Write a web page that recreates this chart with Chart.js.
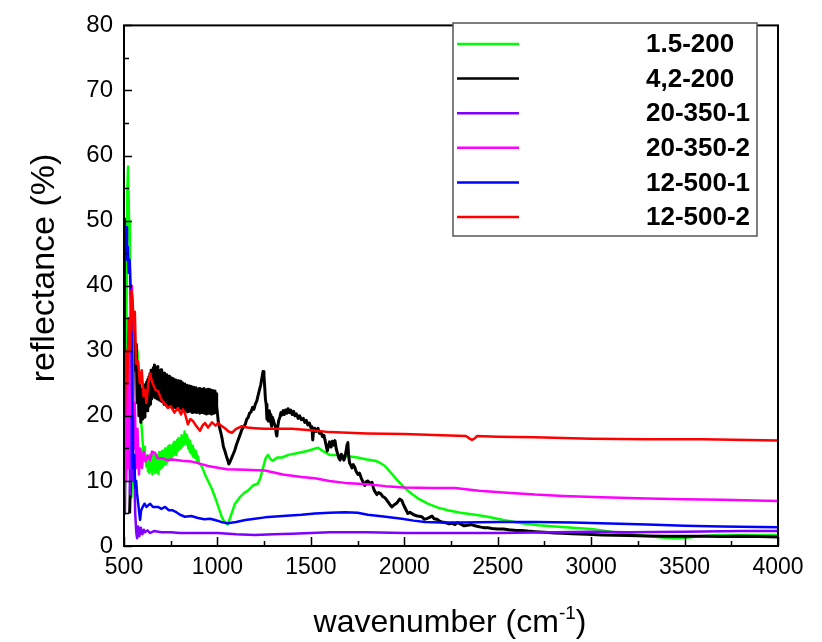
<!DOCTYPE html>
<html><head><meta charset="utf-8">
<script src="https://cdn.jsdelivr.net/npm/chart.js@4"></script>
<style>html,body{margin:0;padding:0;background:#fff}canvas{display:block}</style>
</head><body>
<canvas id="c" width="822" height="642"></canvas>
<script>
// ---------- data: [wavenumber (cm-1), reflectance (%)] ----------
const seriesLabels = ['1.5-200', '4,2-200', '20-350-1', '20-350-2', '12-500-1', '12-500-2'];
const seriesColors = ['#00ff00', '#000000', '#8000ff', '#ff00ff', '#0000ff', '#ff0000'];
const seriesWidths = [2.5, 3, 2.5, 2.5, 2.5, 2.5];
const xTickValues = [500, 1000, 1500, 2000, 2500, 3000, 3500, 4000];
const yTickValues = [0, 10, 20, 30, 40, 50, 60, 70, 80];

const green = [[500,20],[505,8],[512,30],[518,55],[522,58.3],[527,50],[532,45],[537,20],[540,7.5],[545,12],[550,28],[560,31],[572,30],[580,26],[590,20],
[600,16],[604,14.5],[608,15.2],[612,13.2],[616,14],[620,12.2],[624,13.6],[628,11.5],[632,13.8],[636,11.2],[640,14],[644,11.6],[648,13.5],[652,11],[656,14.2],[660,11.8],[664,13.6],[668,11.2],[672,14],[676,11.5],[680,13.5],[684,11.1],[688,14.4],[692,11.8],[696,14.1],
[700,12],[704,14.6],[708,12.2],[712,14.2],[716,12.5],[720,15],[724,12.6],[728,14.8],[732,12.9],[736,15.3],[740,13.1],[744,15.5],[748,13.4],[752,15.2],[756,13.6],[760,15.6],[764,13.9],[768,16],[772,14.1],[776,15.8],[780,14],[784,16.3],[788,14.6],[792,16.6],[796,14.9],
[800,16.4],[804,15],[808,17],[812,15.3],[816,16.8],[820,15.6],[824,17.6],[828,15.9],[832,17.1],[836,15.6],[840,16.7],[844,15],[848,16.2],[852,14.5],[856,15.8],[860,14.2],[864,15.4],[868,13.8],[872,15],[876,13.6],[880,14.6],[884,13.5],[888,14.2],[892,13],[896,13.8],[900,12.8],
[910,12.5],[920,12],[933,11],[950,10],[970,8.8],[987,7.5],[1005,6],[1024,4.4],[1040,3.6],[1055,3.3],[1070,4.5],[1094,6.5],[1120,7.5],[1145,8.2],[1164,8.5],[1190,9.3],[1217,9.6],[1230,10.5],[1244,12],[1258,13.5],[1270,14],[1285,13.3],[1297,13.1],[1320,13.6],[1345,13.6],[1380,14],[1431,14.3],[1480,14.6],[1538,15.1],[1570,14.5],[1600,14],[1645,14],[1700,13.8],[1750,13.6],[1800,13.3],[1843,13.1],[1870,12.8],[1896,12.3],[1930,11.2],[1966,10],[2000,9],[2041,8],[2080,7.2],[2126,6.5],[2180,5.9],[2233,5.5],[2300,5.1],[2380,4.8],[2447,4.5],[2530,4],[2629,3.5],[2720,3.2],[2806,3],[2900,2.8],[3000,2.6],[3060,2.4],[3154,2],[3277,1.6],[3380,1.3],[3458,1.2],[3520,1.3],[3581,1.5],[3670,1.7],[3758,1.7],[3880,1.7],[4000,1.7]];

const black = [[530,5],[540,15],[548,25],[553,33.5],[558,31],[562,27],[566,31],[570,22],[575,26],[580,20],[585,25],[590,19],[596,24],
[600,19.5],[603,23.8],[606,20.2],[609,24.5],[612,19.8],[615,24.8],[618,21],[621,25.2],[624,20.8],[627,25.6],
[630,21.5],[633,26],[636,22],[639,26.5],[642,21.8],[645,27],[648,22.6],[651,26.8],[654,23],[657,27.4],
[660,23.2],[663,27.8],[666,22.8],[669,27.5],[672,23.5],[675,27.2],[678,22.6],[681,27.6],[684,23],[687,27],
[690,22.4],[693,26.8],[696,22.8],[699,27.1],[702,22.2],[705,26.5],[708,22.6],[711,26.2],[714,21.8],[717,26.6],
[720,22.2],[723,25.8],[726,21.6],[729,26.3],[732,22],[735,25.9],[738,21.5],[741,26.1],[744,21.8],[747,25.6],
[750,21.4],[753,25.8],[756,21.9],[759,25.4],[762,21.2],[765,25.7],[768,21.6],[771,25.2],[774,21.3],[777,25.5],
[780,21.8],[783,25],[786,21.2],[789,25.4],[792,21.5],[795,24.9],[798,21],[801,25.3],[804,21.6],[807,24.8],
[810,21.1],[813,25.1],[816,21.4],[819,24.6],[822,20.8],[825,24.9],[828,21.2],[831,24.4],[834,20.9],[837,24.7],
[840,20.6],[843,24.3],[846,21],[849,24.6],[852,20.7],[855,24.2],[858,20.9],[861,24.5],[864,20.5],[867,24.1],
[870,20.8],[873,24.4],[876,20.6],[879,24],[882,20.9],[885,24.3],[888,20.5],[891,24.1],[894,20.8],[897,23.9],
[900,20.6],[903,24.2],[906,20.4],[909,23.9],[912,20.7],[915,24.1],[918,20.5],[921,23.8],[924,20.8],[927,24.2],
[930,20.4],[933,23.9],[936,20.6],[939,24],[942,20.3],[945,23.8],[948,20.7],[951,24.1],[954,20.4],[957,23.7],
[960,20.6],[963,24],[966,20.3],[969,23.8],[972,20.6],[975,23.9],[978,20.4],[981,23.6],[984,20.5],[987,23.8],
[990,20.6],[993,23.4],[996,21.5],
[1005,19],[1013,18],[1020,17.2],[1025,16.5],[1032,15.3],[1040,14.6],[1048,13.8],[1055,13.2],[1061,12.6],[1067,12.9],[1074,13.4],[1080,13.8],[1087,14.3],[1094,14.8],[1102,15.6],[1110,16.2],[1120,17],[1131,17.9],[1140,18.3],[1150,18.8],[1157,19.5],[1164,19.7],[1172,20.4],[1180,20.6],[1188,21.3],[1195,21],[1203,21.8],[1211,22.3],[1218,23.2],[1225,24],[1232,24.8],[1238,25.8],[1244,26.8],[1249,26.2],[1253,24.5],[1257,22.5],[1261,21.8],[1265,19.5],[1268,20.5],[1272,19.2],[1277,20.8],[1282,20.2],[1286,19],[1290,18.4],[1294,19.8],[1299,19.4],[1304,18.8],[1310,18.4],[1315,17.2],[1318,16.9],[1322,18.2],[1328,19.3],[1334,19.8],[1340,20.5],[1345,20.1],[1352,20.8],[1358,20.2],[1365,20.9],[1372,20.4],[1378,21.1],[1385,20.5],[1392,20.9],[1400,20.2],[1408,20.7],[1415,20],[1423,20.3],[1432,19.6],[1440,20],[1450,19.4],[1460,19.6],[1468,19],[1476,19.3],[1484,18.6],[1492,18.9],[1500,18.2],[1506,18.3],[1510,16.3],[1514,17.5],[1520,18.1],[1528,17.6],[1538,18.1],[1546,17.3],[1555,17.5],[1562,16.8],[1570,17],[1575,16.4],[1582,15.4],[1588,14.6],[1594,15.3],[1600,16],[1608,15.2],[1615,16.1],[1622,15.5],[1629,16.2],[1636,14.9],[1645,14],[1650,13.5],[1656,13.2],[1663,14.1],[1670,13.7],[1677,13.2],[1682,13.6],[1688,14.5],[1694,15.6],[1698,15.9],[1702,14],[1707,12.8],[1714,12.4],[1720,12],[1727,12.5],[1735,12.1],[1742,11.5],[1752,11],[1760,11.2],[1770,10.4],[1780,9.8],[1789,9.3],[1797,9.9],[1805,10],[1815,9.6],[1827,9.8],[1834,9],[1840,8.5],[1847,8.2],[1853,7.9],[1862,8.2],[1875,8],[1885,7.6],[1896,7.4],[1905,7.1],[1915,6.7],[1925,6.3],[1934,6],[1945,6.3],[1960,6.6],[1975,7.2],[1987,7],[1995,6.4],[2005,5.8],[2019,5],[2030,5.2],[2050,4.8],[2070,4.6],[2094,4.5],[2108,4.1],[2120,4.2],[2135,4.4],[2148,4.6],[2160,4.2],[2175,4.1],[2190,3.8],[2201,3.7],[2220,3.6],[2240,3.4],[2255,3.5],[2271,3.3],[2285,3.6],[2300,3.4],[2320,3.1],[2340,3.2],[2360,3.3],[2378,3.1],[2395,3],[2410,2.9],[2430,2.8],[2447,2.8],[2470,2.7],[2500,2.6],[2530,2.6],[2560,2.5],[2600,2.4],[2629,2.4],[2660,2.3],[2700,2.2],[2750,2.1],[2806,2],[2850,1.95],[2900,1.9],[2980,1.8],[3057,1.7],[3130,1.65],[3200,1.6],[3300,1.55],[3400,1.5],[3500,1.5],[3600,1.5],[3700,1.45],[3800,1.5],[3900,1.45],[4000,1.4]];

const purple = [[500,15],[505,5],[510,25],[518,12],[525,30],[532,8],[540,20],[548,10],[555,12],[560,5],[566,2],[570,1.2],[576,3],[582,1.5],[590,2.8],[598,1.8],[606,2.5],[612,2.1],[625,2.4],[640,2],[660,2.3],[700,2.1],[750,2.1],[800,2],[900,2],[1000,2],[1100,1.8],[1200,1.7],[1300,1.8],[1400,1.9],[1500,2],[1600,2.1],[1800,2.1],[2000,2],[2200,2],[2500,2],[2800,2.1],[3000,2.2],[3200,2.1],[3500,2.2],[3800,2.3],[4000,2.3]];

const magenta = [[500,27],[503,8],[507,25],[512,10],[518,28],[524,12],[530,35],[536,20],[542,40],[547,30],[552,15],[558,22],[565,12],[572,18],[580,11],[588,15],[596,12],[605,14.5],[615,13],[628,13.9],[640,13.2],[650,14.5],[666,14.3],[680,13.5],[703,13.5],[730,13.2],[760,13.3],[810,13.1],[860,13],[900,12.7],[950,12.3],[987,12.1],[1050,11.8],[1150,11.7],[1254,11.6],[1350,11],[1450,10.6],[1522,10.4],[1600,10],[1682,9.7],[1800,9.5],[1900,9.2],[2000,9],[2150,8.9],[2271,8.9],[2400,8.5],[2550,8.2],[2700,7.9],[2850,7.7],[3057,7.5],[3300,7.3],[3500,7.2],[3700,7.1],[4000,6.9]];

const blue = [[500,30],[504,50.3],[508,46],[512,49],[516,44],[520,46],[525,42],[530,44],[535,40],[540,35],[545,20],[548,12],[555,14],[560,9],[565,10],[570,8],[578,6],[586,4],[592,5.5],[600,6],[610,6.5],[620,6],[628,6.2],[640,6.5],[655,6],[682,6],[700,5.7],[720,6],[740,5.5],[757,5.5],[780,5.2],[800,4.8],[826,4.5],[860,4.6],[896,4.3],[930,4.1],[960,4.2],[987,4],[1020,3.7],[1055,3.5],[1100,3.7],[1150,4],[1200,4.2],[1254,4.4],[1350,4.6],[1450,4.8],[1522,5],[1600,5.1],[1682,5.2],[1750,5.1],[1805,4.8],[1900,4.5],[1987,4.2],[2050,3.9],[2110,3.7],[2200,3.6],[2300,3.6],[2500,3.7],[2700,3.7],[2900,3.6],[3050,3.5],[3300,3.3],[3500,3.1],[3700,3],[4000,2.9]];

const red = [[505,20],[512,30],[518,25],[525,35],[532,30],[540,39.3],[546,38],[552,33],[558,36],[565,28],[575,28.4],[585,25],[595,27],[605,23],[612,24],[620,22],[630,25],[640,26.5],[648,25.5],[656,24.8],[668,24],[682,23.8],[700,22.5],[715,22],[735,21.2],[750,21.5],[770,20.5],[789,21.2],[805,20.2],[815,21],[826,20.4],[842,18.7],[855,19.5],[869,19.2],[885,18.5],[907,17.7],[920,18.5],[933,18.9],[950,18.2],[971,19],[990,18.5],[1003,18.9],[1020,18.5],[1040,18.1],[1060,17.6],[1078,17.4],[1100,18],[1131,18.4],[1160,18.2],[1200,18.1],[1250,18],[1300,18],[1400,18],[1500,17.8],[1600,17.5],[1700,17.4],[1800,17.3],[2000,17.2],[2200,17],[2330,16.9],[2350,16.5],[2362,16.3],[2375,16.5],[2390,16.9],[2500,16.8],[2700,16.7],[3000,16.5],[3300,16.4],[3600,16.4],[4000,16.2]];

const seriesData = [green, black, purple, magenta, blue, red];

// ---------- chart ----------
const FONT = "'Liberation Sans', Arial, sans-serif";

const datasets = seriesLabels.map((lab, i) => ({
  label: lab,
  data: seriesData[i].map(p => ({ x: p[0], y: p[1] })),
  borderColor: seriesColors[i],
  backgroundColor: seriesColors[i],
  borderWidth: seriesWidths[i],
  borderJoinStyle: 'round',
  pointRadius: 0,
  showLine: true,
  fill: false,
  tension: 0,
  order: seriesLabels.length - i
}));

const decor = {
  id: 'decor',
  afterDatasetsDraw(chart) {
    const { ctx, chartArea: a, scales } = chart;
    const xs = scales.x, ys = scales.y;
    ctx.save();
    ctx.strokeStyle = '#000';
    ctx.lineWidth = 2;
    ctx.strokeRect(a.left, a.top, a.right - a.left, a.bottom - a.top);
    ctx.lineWidth = 1.5;
    ctx.beginPath();
    xs.ticks.forEach((t, i) => {
      const px = Math.round(xs.getPixelForValue(t.value)) + 0.5;
      ctx.moveTo(px, a.bottom); ctx.lineTo(px, a.bottom - 9);
      if (i < xs.ticks.length - 1) {
        const m = Math.round(xs.getPixelForValue((t.value + xs.ticks[i + 1].value) / 2)) + 0.5;
        ctx.moveTo(m, a.bottom); ctx.lineTo(m, a.bottom - 5);
      }
    });
    ys.ticks.forEach((t, i) => {
      const py = Math.round(ys.getPixelForValue(t.value)) + 0.5;
      ctx.moveTo(a.left, py); ctx.lineTo(a.left + 8, py);
      if (i < ys.ticks.length - 1) {
        const m = Math.round(ys.getPixelForValue((t.value + ys.ticks[i + 1].value) / 2)) + 0.5;
        ctx.moveTo(a.left, m); ctx.lineTo(a.left + 5, m);
      }
    });
    ctx.stroke();

    // legend box inside the plot
    const bx = 453, by = 23, bw = 304, bh = 213;
    ctx.fillStyle = '#fff';
    ctx.fillRect(bx, by, bw, bh);
    ctx.strokeStyle = '#555';
    ctx.lineWidth = 1.5;
    ctx.strokeRect(bx, by, bw, bh);
    ctx.font = 'bold 26px ' + FONT;
    ctx.textBaseline = 'middle';
    ctx.textAlign = 'left';
    chart.data.datasets.forEach((ds, i) => {
      const ry = 44 + i * 34.6;
      ctx.strokeStyle = ds.borderColor;
      ctx.lineWidth = 2.5;
      ctx.beginPath();
      ctx.moveTo(457, ry); ctx.lineTo(519, ry);
      ctx.stroke();
      ctx.fillStyle = '#000';
      ctx.fillText(ds.label, 646, ry + 1);
    });

    // axis titles
    ctx.fillStyle = '#000';
    ctx.font = '34px ' + FONT;
    ctx.textBaseline = 'middle';
    ctx.save();
    ctx.translate(45, 268);
    ctx.rotate(-Math.PI / 2);
    ctx.textAlign = 'center';
    ctx.fillText('reflectance (%)', 0, 0);
    ctx.restore();

    const main = 'wavenumber (cm', sup = '-1', tail = ')';
    ctx.font = '32px ' + FONT;
    const w1 = ctx.measureText(main).width, w3 = ctx.measureText(tail).width;
    ctx.font = '19px ' + FONT;
    const w2 = ctx.measureText(sup).width;
    const sx = 450 - (w1 + w2 + w3) / 2;
    const base = 632;
    ctx.textBaseline = 'alphabetic';
    ctx.textAlign = 'left';
    ctx.font = '32px ' + FONT;
    ctx.fillText(main, sx, base);
    ctx.font = '19px ' + FONT;
    ctx.fillText(sup, sx + w1, base - 13);
    ctx.font = '32px ' + FONT;
    ctx.fillText(tail, sx + w1 + w2, base);
    ctx.restore();
  }
};

new Chart(document.getElementById('c'), {
  type: 'scatter',
  data: { datasets },
  options: {
    responsive: false,
    animation: false,
    devicePixelRatio: 1,
    layout: { padding: { left: 0, right: 44, top: 21, bottom: 0 } },
    plugins: { legend: { display: false }, tooltip: { enabled: false } },
    scales: {
      x: {
        type: 'linear', min: 500, max: 4000,
        afterBuildTicks: s => { s.ticks = xTickValues.map(v => ({ value: v })); },
        afterFit: s => { s.height = 96; },
        grid: { display: false, drawTicks: false },
        border: { display: false },
        ticks: { color: '#000', font: { family: FONT, size: 23 }, padding: 8, maxRotation: 0, autoSkip: false, callback: v => String(v) }
      },
      y: {
        type: 'linear', min: 0, max: 80,
        afterBuildTicks: s => { s.ticks = yTickValues.map(v => ({ value: v })); },
        afterFit: s => { s.width = 124; },
        grid: { display: false, drawTicks: false },
        border: { display: false },
        ticks: { color: '#000', font: { family: FONT, size: 24 }, padding: 11, autoSkip: false, callback: v => String(v) }
      }
    }
  },
  plugins: [decor]
});
</script>
</body></html>
